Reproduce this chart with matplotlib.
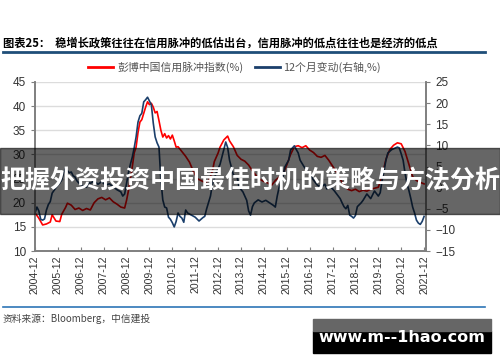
import matplotlib.pyplot as plt
import numpy as np
from matplotlib.patches import Rectangle
from matplotlib.lines import Line2D

plt.rcParams['font.family'] = ['Liberation Sans', 'Noto Sans CJK SC', 'DejaVu Sans']

# months after 2004-12
red_m = [0, 2, 4, 6, 8, 9, 11, 13, 14, 16, 17, 19, 21, 23, 25, 27, 29, 31, 33, 35,
         37, 39, 41, 43, 45, 47, 48, 49, 50, 51, 52, 53, 54, 55, 56, 57, 58, 59, 60, 61,
         62, 63, 64, 65, 66, 67, 68, 69, 70, 71, 72, 73, 74, 75, 77, 79, 81, 83, 85, 87,
         89, 91, 93, 94, 96, 97, 99, 101, 102, 104, 106, 108, 110, 112, 114, 116, 118, 120, 122, 124,
         126, 128, 130, 132, 134, 136, 138, 140, 142, 144, 146, 148, 150, 152, 154, 156, 158, 160, 162, 164,
         166, 168, 170, 172, 174, 176, 178, 180, 182, 184, 186, 188, 190, 192, 194, 196, 198, 200, 202, 204]
red_v = [17.9, 16.8, 15.4, 15.6, 16.0, 17.5, 16.2, 16.1, 17.6, 19.0, 19.9, 19.5, 18.6, 18.9, 18.4, 18.8, 18.5, 20.0, 20.8, 21.1,
         20.6, 21.0, 20.2, 19.7, 19.1, 18.9, 20.5, 22.5, 25.0, 27.4, 30.3, 31.5, 34.5, 36.7, 37.2, 38.5, 39.8, 40.9, 40.3, 40.6,
         39.8, 38.6, 38.9, 37.0, 35.0, 33.6, 34.3, 33.4, 33.9, 33.2, 34.0, 32.8, 31.5, 31.6, 30.6, 29.6, 28.4, 26.5, 25.0, 24.6,
         24.2, 24.5, 26.5, 28.5, 30.3, 31.5, 33.0, 33.8, 32.8, 31.6, 29.8, 29.0, 28.6, 27.8, 26.6, 25.6, 24.8, 24.4, 24.1, 23.6,
         24.6, 25.3, 25.9, 27.8, 30.0, 31.6, 31.8, 31.4, 31.8, 30.9, 30.4, 29.6, 29.4, 29.8, 28.8, 27.6, 26.4, 24.9, 23.6, 22.8,
         22.5, 22.8, 22.3, 22.6, 22.4, 22.8, 23.0, 23.2, 25.5, 29.0, 31.0, 31.9, 32.4, 32.2, 30.6, 28.0, 25.4, 24.6, 24.2, 23.9]

blue_m = [0, 1, 2, 3, 4, 5, 6, 7, 8, 9, 11, 13, 14, 15, 16, 17, 18, 19, 20, 21,
          22, 23, 25, 27, 28, 29, 31, 33, 35, 37, 39, 41, 43, 45, 46, 47, 48, 49, 50, 51,
          52, 53, 54, 55, 56, 57, 58, 59, 60, 61, 62, 63, 64, 65, 66, 67, 68, 69, 70, 71,
          72, 73, 74, 75, 76, 77, 78, 79, 80, 82, 84, 86, 88, 89, 90, 92, 93, 95, 97, 98,
          99, 100, 101, 102, 104, 106, 107, 109, 111, 112, 113, 114, 115, 117, 119, 121, 123, 125, 126, 127,
          128, 130, 131, 133, 134, 135, 136, 137, 138, 139, 141, 143, 145, 146, 148, 150, 152, 153, 155, 157,
          159, 160, 161, 162, 163, 164, 165, 166, 167, 168, 169, 171, 172, 174, 176, 178, 180, 181, 182, 183,
          184, 185, 187, 189, 190, 191, 192, 193, 194, 195, 196, 197, 198, 199, 200, 201, 202, 203, 204]
blue_v = [-6.0, -4.6, -5.5, -7.5, -7.7, -7.4, -5.3, -4.0, -3.3, -1.3, 0.0, 1.1, 1.8, 3.5, 4.6, 4.0, 3.5, 3.7, 2.8, 2.5,
          1.6, 1.1, 0.4, 0.1, 1.2, 1.0, 1.6, 0.8, 1.4, 0.6, 0.9, 0.2, -0.5, -1.0, -2.0, -1.5, 1.0, 3.5, 5.5, 7.2,
          9.4, 12.0, 15.5, 17.0, 17.6, 20.3, 20.8, 21.4, 20.5, 19.6, 15.3, 12.0, 10.6, 9.6, 1.8, -2.9, -4.6, -4.8, -7.0, -7.5,
          -8.3, -9.3, -8.0, -6.0, -6.8, -7.2, -8.2, -5.3, -6.0, -6.5, -7.0, -7.9, -7.1, -6.8, -5.0, -2.0, 0.8, 3.5, 5.5, 7.2,
          9.0, 10.8, 9.5, 6.5, 3.0, 2.5, 0.1, -1.0, -3.0, -5.5, -6.5, -4.5, -3.6, -2.9, -3.4, -3.0, -3.6, -4.2, -4.6, -2.0,
          0.1, 2.5, 4.9, 6.5, 8.9, 9.4, 9.9, 9.0, 8.2, 6.5, 5.0, 3.8, 2.5, 1.8, 0.6, 0.1, 0.8, -0.3, 0.2, -0.8,
          -2.0, -2.6, -3.6, -4.5, -5.0, -4.2, -6.5, -6.8, -7.2, -6.6, -4.5, -3.6, -3.0, -1.5, -2.6, -0.8, -2.0, -1.2, 1.8, 4.0,
          6.5, 8.2, 9.0, 9.4, 9.6, 9.4, 8.0, 6.5, 3.5, 1.0, -0.6, -2.5, -4.6, -6.0, -7.7, -8.4, -8.7, -8.0, -6.8]

tick_m = list(range(0, 205, 12))
tick_labels = ['%d-12' % y for y in range(2004, 2022)]

red_name = '彭博中国信用脉冲指数(%)'
blue_name = '12个月变动(右轴,%)'
title = '图表25：  稳增长政策往往在信用脉冲的低估出台，信用脉冲的低点往往也是经济的低点'
source = '资料来源：Bloomberg，中信建投'
banner = '把握外资投资中国最佳时机的策略与方法分析'
watermark = 'www.m--1hao.com'

red_c = '#ff0000'
blue_c = '#1b3f6b'
grey = '#7f7f7f'

fig = plt.figure(figsize=(5, 3.62), dpi=100)
ax = fig.add_axes([0.07, 0.3066, 0.782, 0.4669])
ax2 = ax.twinx()

ax.plot(red_m, red_v, color=red_c, lw=1.2)
ax2.plot(blue_m, blue_v, color=blue_c, lw=1.2)

ax.set_xlim(0, 205)
ax.set_ylim(10, 45)
ax.set_yticks(range(10, 46, 5))
ax2.set_ylim(-15, 25)
ax2.set_yticks(range(-15, 26, 5))
ax.set_xticks(tick_m)
ax.set_xticklabels(tick_labels, rotation=90)

ax.grid(axis='y', color='#dcdcdc', lw=1)
ax.set_axisbelow(True)
for a in (ax, ax2):
    a.spines['top'].set_visible(False)
    for s in ('left', 'right', 'bottom'):
        a.spines[s].set_color(grey)
        a.spines[s].set_linewidth(1.2)
ax.tick_params(axis='y', labelsize=8.5, colors='#333333', length=3, color=grey)
ax2.tick_params(axis='y', labelsize=8.5, colors='#333333', length=3, color=grey)
ax.tick_params(axis='x', labelsize=7.6, colors='#333333', length=3, direction='in', color=grey, pad=3)

# header, legend, footer
fig.text(0.006, 0.88, title, fontsize=8.1, fontweight='bold', family=['Noto Sans CJK SC', 'DejaVu Sans'], va='center')
fig.lines.append(Line2D([0.006, 0.97], [0.856, 0.856], transform=fig.transFigure, color='#1f4e79', lw=2))
fig.lines.append(Line2D([0.176, 0.226], [0.815, 0.815], transform=fig.transFigure, color=red_c, lw=2))
fig.text(0.234, 0.815, red_name, fontsize=7.8, color='#555555', va='center', family=['Noto Sans CJK SC', 'DejaVu Sans'])
fig.lines.append(Line2D([0.51, 0.56], [0.815, 0.815], transform=fig.transFigure, color=blue_c, lw=2))
fig.text(0.566, 0.815, blue_name, fontsize=7.8, color='#555555', va='center', family=['Noto Sans CJK SC', 'DejaVu Sans'])
fig.lines.append(Line2D([0.006, 0.97], [0.152, 0.152], transform=fig.transFigure, color='#2e75b6', lw=1.2))
fig.text(0.006, 0.12, source, fontsize=7, color='#444444', style='italic', va='center', family=['Noto Sans CJK SC', 'DejaVu Sans'])

# overlay banner
fig.patches.append(Rectangle((0, 0.409), 1, 0.182, transform=fig.transFigure, color='black', alpha=0.6, zorder=5))
fig.text(0.5, 0.497, banner, fontsize=18, fontweight='bold', color='white', ha='center', va='center',
         family=['Noto Sans CJK SC', 'DejaVu Sans'], zorder=6)

# watermark box
fig.patches.append(Rectangle((0.626, 0.025), 0.356, 0.061, transform=fig.transFigure, color='black', zorder=5))
fig.patches.append(Rectangle((0.626, 0.086), 0.356, 0.033, transform=fig.transFigure, color='#666666', zorder=5))
fig.text(0.804, 0.069, watermark, fontsize=11.5, fontweight='bold', color='white', ha='center', va='center',
         family=['DejaVu Sans'], zorder=6)

fig.savefig('out.png', dpi=100)
